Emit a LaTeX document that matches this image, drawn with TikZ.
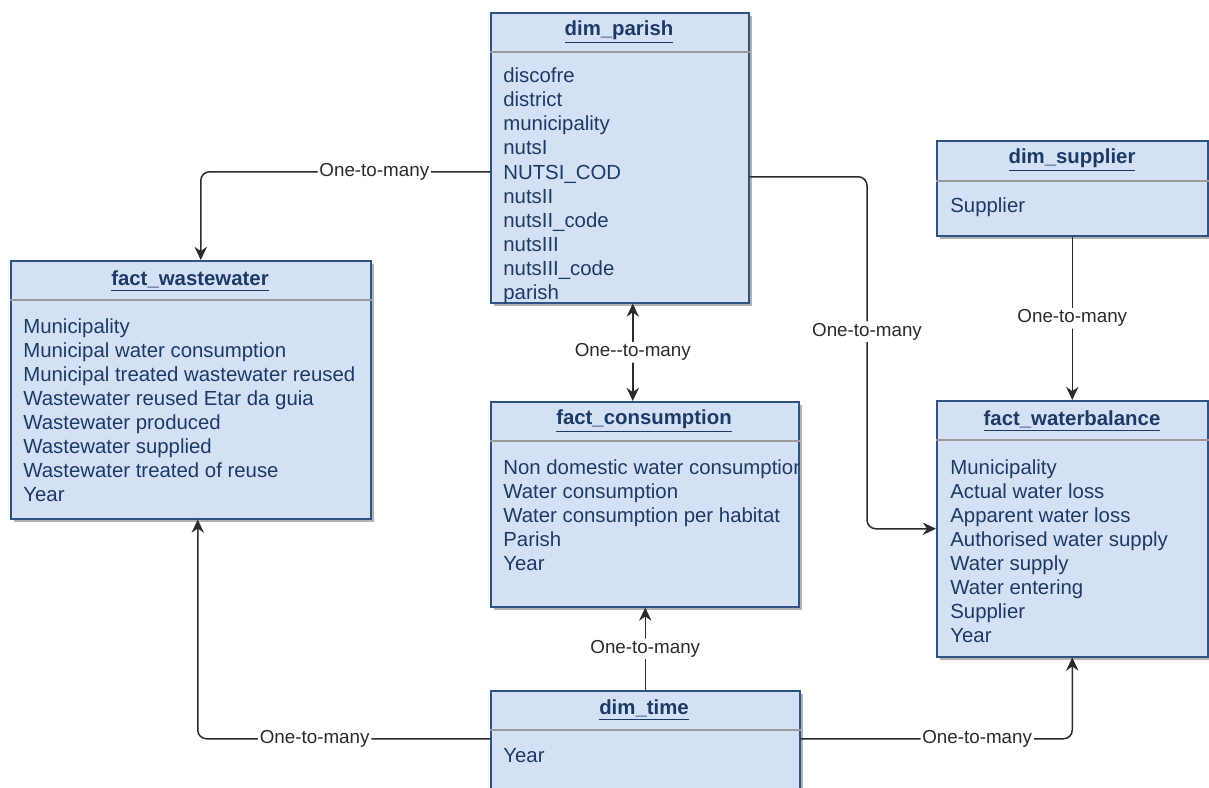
\documentclass[tikz,border=0pt]{standalone}
\usepackage{fontspec}
\setmainfont{Liberation Sans}
\usetikzlibrary{arrows.meta,shadows}

\definecolor{boxfill}{HTML}{D4E1F5}
\definecolor{boxline}{HTML}{2E5283}
\definecolor{boxtext}{HTML}{1B3A66}
\definecolor{sepline}{HTML}{9A9A9A}
\definecolor{relline}{HTML}{2B2B2B}

\tikzset{
  table/.style={draw=boxline, line width=0.9pt, fill=boxfill, anchor=north west, inner sep=0pt,
    drop shadow={shadow xshift=0.07cm, shadow yshift=-0.07cm, fill=black, opacity=0.3}},
  title/.style={text=boxtext, font=\fontsize{11.6}{13.7}\selectfont\bfseries},
  field/.style={text=boxtext, anchor=base west, inner sep=0pt, font=\fontsize{11.6}{13.7}\selectfont},
  sep/.style={draw=sepline, line width=0.8pt},
  rel/.style={draw=relline, line width=0.85pt, rounded corners=5pt, -{Stealth[length=7.5pt,width=7pt]}},
  lbl/.style={fill=white, text=relline, inner sep=1pt, font=\fontsize{10.7}{12}\selectfont},
}

\begin{document}
\begin{tikzpicture}[x=0.02cm, y=-0.02cm]
  \useasboundingbox (0,0) rectangle (1209,787);

  % tables
  \node[table, minimum width=5.16cm, minimum height=5.8cm] (parish) at (490,12) {};
  \node[table, minimum width=7.2cm, minimum height=5.16cm] (wastewater) at (10,260) {};
  \node[table, minimum width=5.42cm, minimum height=1.9cm] (supplier) at (936,140) {};
  \node[table, minimum width=5.42cm, minimum height=5.12cm] (balance) at (936,400) {};
  \node[table, minimum width=6.16cm, minimum height=4.1cm] (consumption) at (490,401) {};
  \node[table, minimum width=6.18cm, minimum height=2.2cm] (time) at (490,690) {};

  \draw[sep] ([yshift=-0.8cm]parish.north west) -- ([yshift=-0.8cm]parish.north east);
  \draw[sep] ([yshift=-0.8cm]wastewater.north west) -- ([yshift=-0.8cm]wastewater.north east);
  \draw[sep] ([yshift=-0.82cm]supplier.north west) -- ([yshift=-0.82cm]supplier.north east);
  \draw[sep] ([yshift=-0.8cm]balance.north west) -- ([yshift=-0.8cm]balance.north east);
  \draw[sep] ([yshift=-0.8cm]consumption.north west) -- ([yshift=-0.8cm]consumption.north east);
  \draw[sep] ([yshift=-0.8cm]time.north west) -- ([yshift=-0.8cm]time.north east);

  \node[title] (parish-t) at (619,32) {\underline{dim\_parish}};
  \node[title] (wastewater-t) at (190,281) {\underline{fact\_wastewater}};
  \node[title] (supplier-t) at (1072,160) {\underline{dim\_supplier}};
  \node[title] (balance-t) at (1072,421) {\underline{fact\_waterbalance}};
  \node[title] (consumption-t) at (644,421) {\underline{fact\_consumption}};
  \node[title] (time-t) at (644,710) {\underline{dim\_time}};

  % fields
  \foreach \f [count=\i] in {discofre, district, municipality, nutsI, NUTSI\_COD,
      nutsII, nutsII\_code, nutsIII, nutsIII\_code, parish}
    \node[field] (parish-\i) at (503,59+24*\i) {\f};
  \foreach \f [count=\i] in {Municipality, Municipal water consumption,
      Municipal treated wastewater reused, Wastewater reused Etar da guia,
      Wastewater produced, Wastewater supplied, Wastewater treated of reuse, Year}
    \node[field] (wastewater-\i) at (23,309+24*\i) {\f};
  \node[field] (supplier-1) at (950,213) {Supplier};
  \foreach \f [count=\i] in {Municipality, Actual water loss, Apparent water loss,
      Authorised water supply, Water supply, Water entering, Supplier, Year}
    \node[field] (balance-\i) at (950,450+24*\i) {\f};
  \begin{scope}
    \clip (consumption.north west) rectangle (consumption.south east);
    \foreach \f [count=\i] in {Non domestic water consumption, Water consumption,
        Water consumption per habitat, Parish, Year}
      \node[field] (consumption-\i) at (503,450+24*\i) {\f};
  \end{scope}
  \node[field] (time-1) at (503,762) {Year};

  % relations
  \draw[rel] ([yshift=-0.28cm]parish.west) -| ([xshift=0.2cm]wastewater.north)
    node[lbl, pos=0.2] (parish-wastewater) {One-to-many};
  \draw[rel, {Stealth[length=7.5pt,width=7pt]}-{Stealth[length=7.5pt,width=7pt]}]
    ([xshift=0.26cm]parish.south) -- ([xshift=0.26cm]parish.south |- consumption.north)
    node[lbl, midway] (parish-consumption) {One-{}-to-many};
  \coordinate (parish-turn) at (867,0);
  \draw[rel] ([yshift=-0.38cm]parish.east) -| node[lbl, pos=0.72] (parish-balance) {One-to-many}
    (parish-turn |- balance.west) -- (balance.west);
  \draw[rel] (supplier.south) -- (supplier.south |- balance.north)
    node[lbl, midway] (supplier-balance) {One-to-many};
  \draw[rel] (time.north) -- (time.north |- consumption.south)
    node[lbl, midway] (time-consumption) {One-to-many};
  \draw[rel] ([yshift=0.14cm]time.west) -| ([xshift=0.14cm]wastewater.south)
    node[lbl, pos=0.3] (time-wastewater) {One-to-many};
  \draw[rel] ([yshift=0.14cm]time.east) -| (balance.south)
    node[lbl, pos=0.325] (time-balance) {One-to-many};
\end{tikzpicture}
\end{document}
